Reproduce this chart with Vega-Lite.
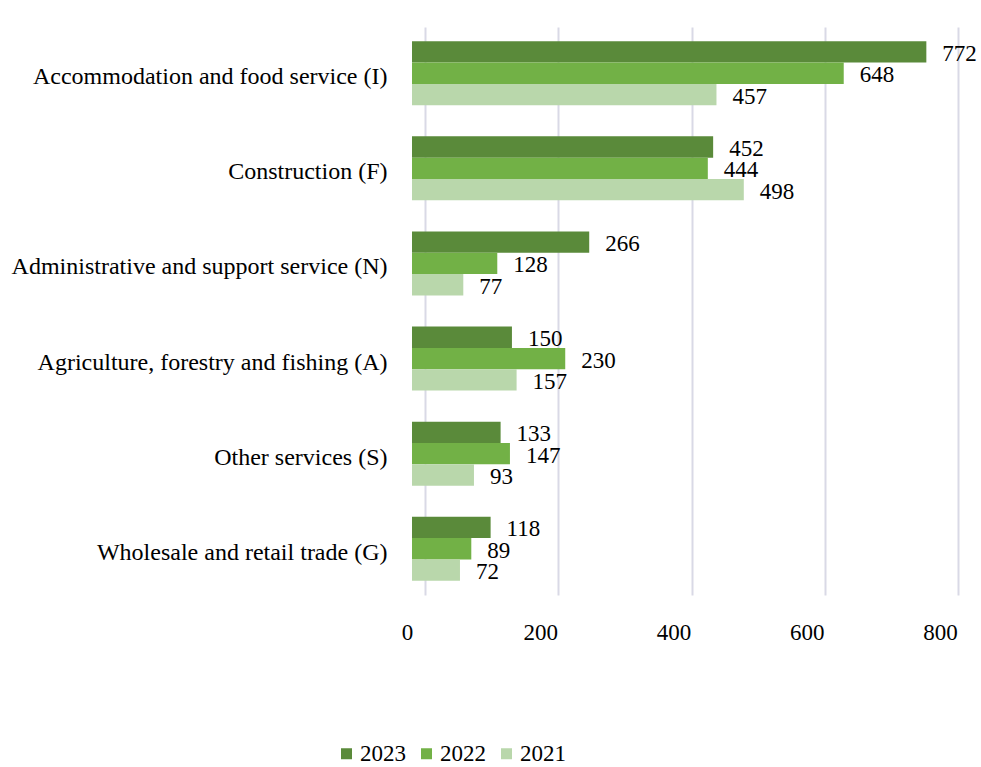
{
  "$schema": "https://vega.github.io/schema/vega-lite/v6.json",
  "autosize": "none",
  "width": 533,
  "height": 568,
  "padding": {"left": 412, "top": 27, "right": 36, "bottom": 172},
  "background": "white",
  "config": {
    "font": "Liberation Serif",
    "view": {"stroke": null}
  },
  "data": {
    "values": [
      {"sector": "Accommodation and food service (I)", "year": "2023", "value": 772},
      {"sector": "Accommodation and food service (I)", "year": "2022", "value": 648},
      {"sector": "Accommodation and food service (I)", "year": "2021", "value": 457},
      {"sector": "Construction (F)", "year": "2023", "value": 452},
      {"sector": "Construction (F)", "year": "2022", "value": 444},
      {"sector": "Construction (F)", "year": "2021", "value": 498},
      {"sector": "Administrative and support service (N)", "year": "2023", "value": 266},
      {"sector": "Administrative and support service (N)", "year": "2022", "value": 128},
      {"sector": "Administrative and support service (N)", "year": "2021", "value": 77},
      {"sector": "Agriculture, forestry and fishing (A)", "year": "2023", "value": 150},
      {"sector": "Agriculture, forestry and fishing (A)", "year": "2022", "value": 230},
      {"sector": "Agriculture, forestry and fishing (A)", "year": "2021", "value": 157},
      {"sector": "Other services (S)", "year": "2023", "value": 133},
      {"sector": "Other services (S)", "year": "2022", "value": 147},
      {"sector": "Other services (S)", "year": "2021", "value": 93},
      {"sector": "Wholesale and retail trade (G)", "year": "2023", "value": 118},
      {"sector": "Wholesale and retail trade (G)", "year": "2022", "value": 89},
      {"sector": "Wholesale and retail trade (G)", "year": "2021", "value": 72}
    ]
  },
  "encoding": {
    "y": {
      "field": "sector",
      "type": "nominal",
      "sort": null,
      "scale": {"paddingInner": 0.327, "paddingOuter": 0.15},
      "axis": {
        "title": null,
        "domain": false,
        "ticks": false,
        "labelFontSize": 24,
        "labelColor": "#000000",
        "labelPadding": 25,
        "labelOffset": 4,
        "labelLimit": 450
      }
    },
    "yOffset": {"field": "year", "type": "nominal", "sort": ["2023", "2022", "2021"]},
    "x": {
      "field": "value",
      "type": "quantitative",
      "scale": {"domain": [0, 800], "nice": false},
      "axis": {
        "title": null,
        "values": [0, 200, 400, 600, 800],
        "domain": false,
        "ticks": false,
        "grid": true,
        "gridColor": "#d9d9e6",
        "gridWidth": 2,
        "tickOffset": 13,
        "labelFlush": false,
        "labelOffset": -18,
        "labelFontSize": 23,
        "labelColor": "#000000",
        "labelPadding": 26
      }
    }
  },
  "layer": [
    {
      "mark": {"type": "bar"},
      "encoding": {
        "color": {
          "field": "year",
          "type": "nominal",
          "sort": ["2023", "2022", "2021"],
          "scale": {"domain": ["2023", "2022", "2021"], "range": ["#5a8a3a", "#72b146", "#b9d7ab"]},
          "legend": {
            "title": null,
            "orient": "none",
            "direction": "horizontal",
            "legendX": -77,
            "legendY": 715,
            "symbolType": "square",
            "symbolSize": 121,
            "symbolStrokeWidth": 0,
            "labelFontSize": 23,
            "labelColor": "#000000",
            "labelOffset": 2,
            "columnPadding": 9
          }
        }
      }
    },
    {
      "mark": {"type": "text", "align": "left", "baseline": "middle", "dx": 16, "dy": 2, "fontSize": 23, "color": "#000000"},
      "encoding": {"text": {"field": "value", "type": "quantitative"}}
    }
  ]
}
